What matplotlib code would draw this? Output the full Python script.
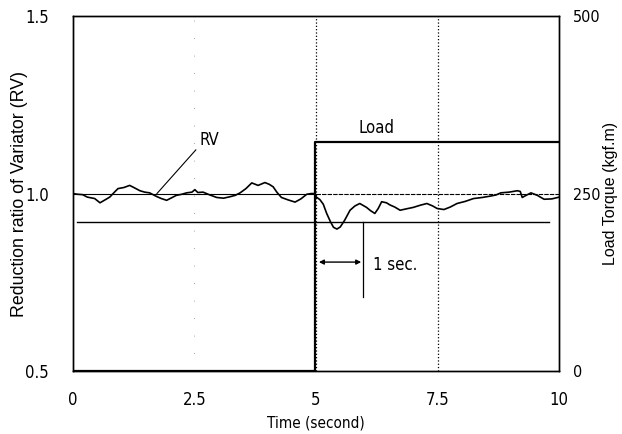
import matplotlib
matplotlib.use("Agg")
from matplotlib import pyplot as plt

# RV trace (time in s, reduction ratio)
rv_time = [0.0, 0.1, 0.2, 0.3, 0.45, 0.56, 0.66, 0.76, 0.85, 0.93, 1.05, 1.17, 1.27, 1.38, 1.48,
           1.58, 1.72, 1.82, 1.93, 2.03, 2.13, 2.24, 2.34, 2.45, 2.51, 2.57, 2.68, 2.82, 2.96,
           3.1, 3.23, 3.34, 3.44, 3.56, 3.68, 3.81, 3.95, 4.04, 4.12, 4.2, 4.29, 4.43, 4.57,
           4.69, 4.81, 4.9, 4.96, 5.01, 5.08, 5.15, 5.22, 5.3, 5.36, 5.43, 5.5, 5.59, 5.7,
           5.8, 5.9, 6.04, 6.12, 6.21, 6.28, 6.35, 6.45, 6.52, 6.62, 6.73, 6.86, 7.0, 7.14,
           7.28, 7.4, 7.49, 7.63, 7.76, 7.9, 8.07, 8.24, 8.42, 8.59, 8.7, 8.8, 8.97, 9.14,
           9.2, 9.24, 9.32, 9.42, 9.55, 9.69, 9.85, 10.0]
rv_value = [1.0, 0.998, 0.997, 0.99, 0.986, 0.974, 0.982, 0.99, 1.003, 1.014, 1.017, 1.023,
            1.016, 1.008, 1.004, 1.002, 0.992, 0.986, 0.981, 0.988, 0.995, 0.998, 1.002, 1.004,
            1.011, 1.003, 1.004, 0.996, 0.989, 0.987, 0.991, 0.995, 1.002, 1.014, 1.03, 1.023,
            1.031, 1.026, 1.019, 1.003, 0.989, 0.982, 0.976, 0.985, 0.998, 1.0, 1.0, 0.99,
            0.983, 0.97, 0.944, 0.92, 0.905, 0.9, 0.906, 0.925, 0.953, 0.965, 0.972, 0.961,
            0.952, 0.944, 0.958, 0.977, 0.974, 0.968, 0.962, 0.953, 0.957, 0.961, 0.967,
            0.972, 0.965, 0.958, 0.955, 0.962, 0.972, 0.978, 0.986, 0.989, 0.993, 0.996,
            1.002, 1.004, 1.008, 1.006, 0.989, 0.995, 1.002, 0.995, 0.984, 0.985, 0.99]

# Load torque step (kgf.m)
load_time = [0.0, 4.98, 4.98, 10.0]
load_value = [0, 0, 322, 322]

ref_level = 1.0
low_level = 0.92

plt.rcParams['font.family'] = ['DejaVu Sans']
plt.rcParams['font.stretch'] = 'condensed'
narrow = dict(family='DejaVu Sans', stretch='condensed')
wide = dict(family='Liberation Sans')

fig = plt.figure(figsize=(6.22, 4.34), dpi=100)
ax = fig.add_axes([0.117, 0.145, 0.782, 0.818])
ax2 = ax.twinx()

ax.set_xlim(0, 10)
ax.set_ylim(0.5, 1.5)
ax2.set_ylim(0, 500)

# reference lines and guides
ax.plot([0, 5], [ref_level, ref_level], color='black', linewidth=0.8)
ax.plot([5, 10], [ref_level, ref_level], color='black', linewidth=0.8, linestyle=(0, (4, 1)))
ax.plot([0.08, 9.8], [low_level, low_level], color='black', linewidth=1.0)
ax.axvline(5, color='black', linewidth=0.9, linestyle=':')
ax.axvline(7.5, color='black', linewidth=0.9, linestyle=':')
ax.axvline(2.5, color='#888888', linewidth=0.6, linestyle=(0, (1, 20)))

ax.plot(rv_time, rv_value, color='black', linewidth=1.2)
ax2.plot(load_time, load_value, color='black', linewidth=1.6)

# annotations
ax.plot([1.73, 2.53], [1.0, 1.123], color='black', linewidth=0.8)
ax.text(2.6, 1.15, 'RV', fontsize=12, va='center', ha='left', **narrow)
ax.text(6.25, 1.185, 'Load', fontsize=12, va='center', ha='center', **narrow)
ax.annotate('', xy=(5.06, 0.807), xytext=(5.93, 0.807),
            arrowprops=dict(arrowstyle='<|-|>', color='black', linewidth=1.0,
                            mutation_scale=7, shrinkA=0, shrinkB=0))
ax.plot([5.97, 5.97], [0.708, 0.92], color='black', linewidth=0.9)
ax.text(6.17, 0.80, '1 sec.', fontsize=12, va='center', ha='left', **narrow)

ax.set_xticks([0, 2.5, 5, 7.5, 10])
ax.set_xticklabels(['0', '2.5', '5', '7.5', '10'])
ax.set_yticks([0.5, 1.0, 1.5])
ax.set_yticklabels(['0.5', '1.0', '1.5'])
ax2.set_yticks([0, 250, 500])
ax.tick_params(axis='x', length=0, labelsize=12, pad=14)
ax.tick_params(axis='y', length=0, labelsize=12, pad=17)
ax2.tick_params(length=0, labelsize=11.5, pad=10)
for lab in ax.get_xticklabels() + ax.get_yticklabels() + ax2.get_yticklabels():
    lab.set_fontstretch('condensed')

ax.set_xlabel('Time (second)', fontsize=11, **narrow)
ax.xaxis.set_label_coords(0.5, -0.125)
ax.set_ylabel('Reduction ratio of Variator (RV)', fontsize=12.8, **wide)
ax.yaxis.set_label_coords(-0.093, 0.5)
ax2.set_ylabel('Load Torque (kgf.m)', fontsize=11.5, **wide)
ax2.yaxis.set_label_coords(1.09, 0.5)

for a in (ax, ax2):
    for s in a.spines.values():
        s.set_linewidth(1.0)

fig.savefig('out.png', dpi=100)
